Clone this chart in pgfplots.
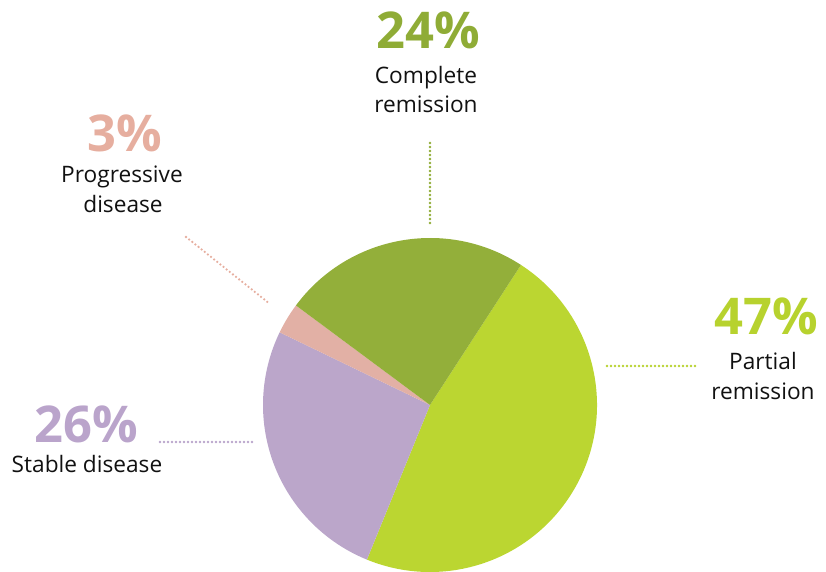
\documentclass[border=0pt]{standalone}
\usepackage{pgfplots}
\pgfplotsset{compat=1.18}
\usepackage{pgfplotstable}
\usepackage{fontspec}
\setmainfont{Open Sans}
\definecolor{cLime}{HTML}{BBD631}
\definecolor{cLav}{HTML}{BBA6CA}
\definecolor{cPink}{HTML}{E2B0A5}
\definecolor{cGreen}{HTML}{93AF3A}
\definecolor{tLime}{HTML}{B7D22E}
\definecolor{tLav}{HTML}{BAA4CB}
\definecolor{tPink}{HTML}{E6AE9F}
\definecolor{tGreen}{HTML}{8FAC36}
\definecolor{tBlack}{HTML}{111111}

\pgfplotstableread{
label value
Partial 47
Stable 26
Progressive 3
Complete 24
}\piedata

\begin{document}
\begin{tikzpicture}
\pgfmathsetmacro\angA{57}
\pgfplotstablegetelem{0}{value}\of\piedata \pgfmathsetmacro\angB{\angA-3.6*\pgfplotsretval}
\pgfplotstablegetelem{1}{value}\of\piedata \pgfmathsetmacro\angC{\angB-3.6*\pgfplotsretval}
\pgfplotstablegetelem{2}{value}\of\piedata \pgfmathsetmacro\angD{\angC-3.6*\pgfplotsretval}
\pgfplotstablegetelem{3}{value}\of\piedata \pgfmathsetmacro\angE{\angD-3.6*\pgfplotsretval}
\def\R{125.25pt}
\begin{axis}[
  x=0.75pt, y=0.75pt,
  xmin=0, xmax=826, ymin=0, ymax=572,
  hide axis, clip=false,
]
\coordinate (BL) at (axis cs:0,0);
\coordinate (TR) at (axis cs:826,572);
% pie slices
\fill[cLime]  (axis cs:430,167) -- ([shift={(\angA:\R)}]axis cs:430,167) arc[start angle=\angA, end angle=\angB, radius=\R] -- cycle;
\fill[cLav]   (axis cs:430,167) -- ([shift={(\angB:\R)}]axis cs:430,167) arc[start angle=\angB, end angle=\angC, radius=\R] -- cycle;
\fill[cPink]  (axis cs:430,167) -- ([shift={(\angC:\R)}]axis cs:430,167) arc[start angle=\angC, end angle=\angD, radius=\R] -- cycle;
\fill[cGreen] (axis cs:430,167) -- ([shift={(\angD:\R)}]axis cs:430,167) arc[start angle=\angD, end angle=\angE, radius=\R] -- cycle;
% leader lines
\tikzset{leader/.style={line width=1.9pt, line cap=round, dash pattern=on 0pt off 3pt}}
\draw[leader, tGreen] (axis cs:430,429) -- (axis cs:430,347);
\draw[leader, tLime] (axis cs:607,206) -- (axis cs:698,206);
\draw[leader, tLav] (axis cs:160,130) -- (axis cs:252,130);
\draw[leader, tPink] (axis cs:186,335) -- (axis cs:270,268);
% labels
\tikzset{pct/.style={anchor=base, inner sep=0pt, font=\fontsize{38}{42}\selectfont\bfseries},
         lab/.style={anchor=base, inner sep=0pt, text=tBlack, font=\fontsize{17}{20}\selectfont}}
\node[pct, text=tGreen] at (axis cs:428,523) {24\%};
\node[lab] at (axis cs:426,488) {Complete};
\node[lab] at (axis cs:426,459) {remission};
\node[pct, text=tPink] at (axis cs:125,420) {3\%};
\node[lab] at (axis cs:122,389) {Progressive};
\node[lab] at (axis cs:123,359) {disease};
\node[pct, text=tLav] at (axis cs:86,129) {26\%};
\node[lab] at (axis cs:87,99) {Stable disease};
\node[pct, text=tLime] at (axis cs:766,237) {47\%};
\node[lab] at (axis cs:763,202) {Partial};
\node[lab] at (axis cs:763,172) {remission};
\end{axis}
\pgfresetboundingbox
\useasboundingbox (BL) rectangle (TR);
\end{tikzpicture}
\end{document}
